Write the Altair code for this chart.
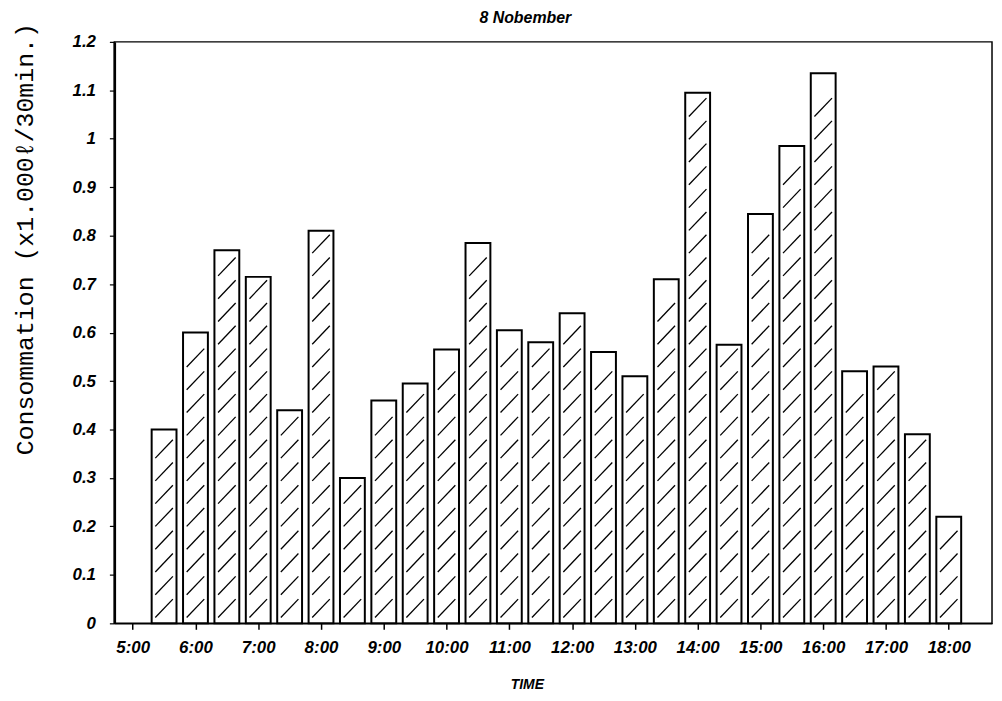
import altair as alt
import pandas as pd

# ---- data ----
times = ["5:30", "6:00", "6:30", "7:00", "7:30", "8:00", "8:30", "9:00", "9:30",
         "10:00", "10:30", "11:00", "11:30", "12:00", "12:30", "13:00", "13:30",
         "14:00", "14:30", "15:00", "15:30", "16:00", "16:30", "17:00", "17:30", "18:00"]
values = [0.40, 0.60, 0.77, 0.715, 0.44, 0.81, 0.30, 0.46, 0.495, 0.565, 0.785,
          0.605, 0.58, 0.64, 0.56, 0.51, 0.71, 1.095, 0.575, 0.845, 0.985, 1.135,
          0.52, 0.53, 0.39, 0.22]
hour_labels = ["5:00", "6:00", "7:00", "8:00", "9:00", "10:00", "11:00", "12:00",
               "13:00", "14:00", "15:00", "16:00", "17:00", "18:00"]
y_ticks = [0, 0.1, 0.2, 0.3, 0.4, 0.5, 0.6, 0.7, 0.8, 0.9, 1.0, 1.1, 1.2]

TITLE = "8 Nobember"
Y_TITLE = "Consommation (x1.000ℓ/30min.)"
X_TITLE = "TIME"


def to_hours(s):
    h, m = s.split(":")
    return int(h) + int(m) / 60.0


hours = [to_hours(t) for t in times]
df = pd.DataFrame({"time": times, "hour": hours, "value": values})

# half-hour tick positions from first hour label to the slot after the last bar
first_h = to_hours(hour_labels[0])
last_h = to_hours(times[-1]) + 0.5
tick_vals = [first_h + 0.5 * i for i in range(int((last_h - first_h) / 0.5) + 1)]

# hatch segments ("/") inside each bar, derived from the bar values
seg_rows = []
for t, v in zip(hours, values):
    y0 = 0.012
    while y0 + 0.038 <= v - 0.004:
        seg_rows.append({"x": t - 0.14, "x2": t + 0.14, "y": y0, "y2": y0 + 0.038})
        y0 += 0.047
hatch = pd.DataFrame(seg_rows)

xscale = alt.Scale(domain=[4.787, 18.61], nice=False, zero=False)
yscale = alt.Scale(domain=[0, 1.2], nice=False)

label_font = "Liberation Sans"

x_axis = alt.Axis(
    values=tick_vals,
    labelExpr="datum.value % 1 == 0 ? format(datum.value, 'd') + ':00' : ''",
    title=X_TITLE,
    titleX=415, titleY=62, titleAlign="center", titleBaseline="middle",
    titleFont=label_font, titleFontSize=14, titleFontStyle="italic", titleFontWeight="bold",
    labelFont=label_font, labelFontSize=17, labelFontStyle="italic", labelFontWeight="bold",
    labelPadding=10, tickSize=6, tickWidth=1.5, domainWidth=1.5,
    grid=False, labelFlush=False, labelOverlap=False,
)
y_axis = alt.Axis(
    values=y_ticks, format="~g",
    title=Y_TITLE,
    titleX=-90, titleY=198, titleAngle=270, titleAlign="center", titleBaseline="middle",
    titleFont="Liberation Mono", titleFontSize=25, titleFontWeight="normal",
    labelFont=label_font, labelFontSize=17, labelFontStyle="italic", labelFontWeight="bold",
    labelPadding=14, tickSize=5, tickWidth=1.2, domainWidth=2.5,
    grid=False, labelFlush=False,
)

bars = alt.Chart(df).mark_bar(size=25, fill="white", stroke="black", strokeWidth=2).encode(
    x=alt.X("hour:Q", scale=xscale, axis=x_axis),
    y=alt.Y("value:Q", scale=yscale, axis=y_axis),
)

lines = alt.Chart(hatch).mark_rule(color="black", strokeWidth=1.3).encode(
    x=alt.X("x:Q", scale=xscale),
    x2="x2:Q",
    y=alt.Y("y:Q", scale=yscale),
    y2="y2:Q",
)

chart = alt.layer(bars, lines).properties(
    width=883,
    height=585,
    autosize=alt.AutoSizeParams(type="none"),
    padding={"left": 107, "top": 32, "right": 2, "bottom": 66},
    title=alt.TitleParams(
        TITLE, anchor="middle", frame="group", dx=-28, dy=8, offset=4,
        font=label_font, fontSize=16, fontStyle="italic", fontWeight="bold", color="black",
    ),
).configure_view(
    stroke="black", strokeWidth=1.5
).configure_axis(
    domainColor="black", tickColor="black", labelColor="black", titleColor="black"
)

chart.save("out.html", embed_options={"renderer": "svg", "actions": False})
